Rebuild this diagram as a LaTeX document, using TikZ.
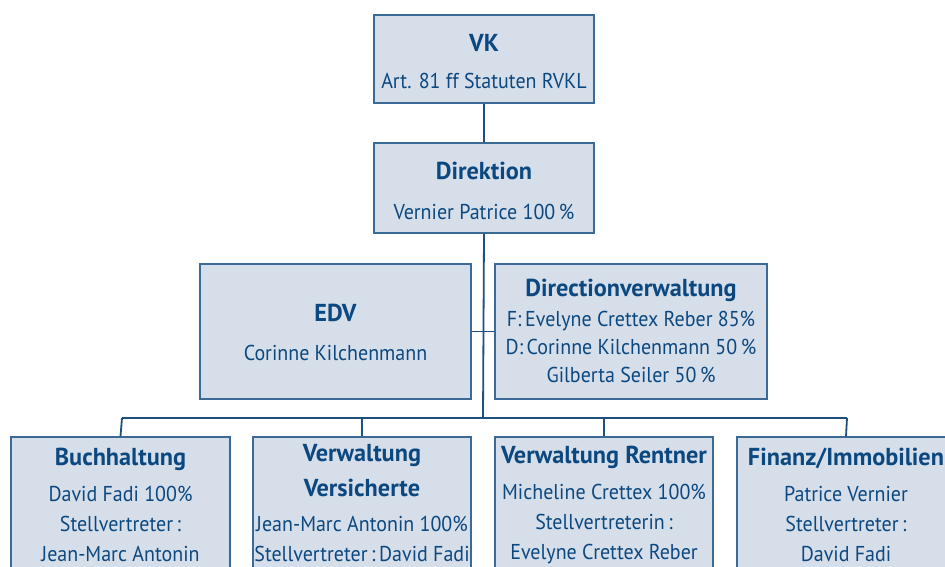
\documentclass[tikz,border=0pt]{standalone}
\usepackage{fontspec}
\setmainfont{PT Sans}[FakeStretch=0.93, BoldFeatures={FakeStretch=0.99}]
\definecolor{boxfill}{HTML}{D6DEEA}
\definecolor{boxline}{HTML}{3C6A96}
\definecolor{linecol}{HTML}{1E4F7E}
\definecolor{txtblue}{HTML}{0C4880}
\newcommand{\ttl}[1]{{\bfseries\fontsize{24.5}{29}\selectfont #1}}
\begin{document}
\begin{tikzpicture}[x=1pt,y=-1pt,
  box/.style={draw=boxline, fill=boxfill, line width=1.3pt, inner sep=0pt},
  txt/.style={text=txtblue, align=center, inner sep=0pt},
  conn/.style={draw=linecol, line width=1.8pt}]
\clip (0,0) rectangle (945,567);
\fill[white] (0,0) rectangle (945,567);
\coordinate (busM) at (483,418);
\coordinate (busL) at (122,418);
\coordinate (busR) at (847,418);
% boxes
\node[box, minimum width=220pt, minimum height=88pt] (vk) at (484,59) {};
\node[box, minimum width=220pt, minimum height=90pt] (dir) at (484,188) {};
\node[box, minimum width=271pt, minimum height=135pt] (edv) at (335.5,331.5) {};
\node[box, minimum width=272pt, minimum height=135pt] (dv) at (631,331.5) {};
\node[box, minimum width=219pt, minimum height=160pt] (buch) at (120.5,517) {};
\node[box, minimum width=218pt, minimum height=160pt] (vers) at (362,517) {};
\node[box, minimum width=218pt, minimum height=160pt] (rent) at (604,517) {};
\node[box, minimum width=218pt, minimum height=160pt] (fin) at (846,517) {};
% connectors
\draw[conn] (vk.south) -- (dir.north);
\draw[conn] (dir.south) -- (busM);
\draw[conn] (edv.east) -- (dv.west);
\draw[conn] (busL) -- (busR);
\draw[conn] (busL) -- (buch.north);
\draw[conn] (vers.north |- busM) -- (vers.north);
\draw[conn] (rent.north |- busM) -- (rent.north);
\draw[conn] (busR) -- (fin.north);
% texts
\node[txt, font=\fontsize{21.5}{29}\selectfont] (vkT) at (484,61.5) {\ttl{VK}\\[8pt]Art. 81 ff Statuten RVKL};
\node[txt, font=\fontsize{21.5}{29}\selectfont] (dirT) at (484,191) {\ttl{Direktion}\\[11pt]Vernier Patrice 100\,\%};
\node[txt, font=\fontsize{21.5}{29}\selectfont] (edvT) at (335.5,332) {\ttl{EDV}\\[10pt]Corinne Kilchenmann};
\node[txt, font=\fontsize{21.5}{28}\selectfont] (dvT) at (631,331) {\ttl{Directionverwaltung}\\[2pt]F:\,Evelyne Crettex Reber 85\%\\D:\,Corinne Kilchenmann 50\,\%\\Gilberta Seiler 50\,\%};
\node[txt, font=\fontsize{21.5}{30}\selectfont] (buchT) at (120.5,505) {\ttl{Buchhaltung}\\[6pt]David Fadi 100\%\\Stellvertreter\,:\\Jean-Marc Antonin};
\node[txt, font=\fontsize{21.5}{30}\selectfont] (versT) at (362,503) {\ttl{Verwaltung}\\[5pt]\ttl{Versicherte}\\[5pt]Jean-Marc Antonin 100\%\\Stellvertreter\,:\,David Fadi};
\node[txt, font=\fontsize{21.5}{30}\selectfont] (rentT) at (604,505) {\ttl{Verwaltung Rentner}\\[6pt]Micheline Crettex 100\%\\Stellvertreterin\,:\\Evelyne Crettex Reber};
\node[txt, font=\fontsize{21.5}{30}\selectfont] (finT) at (846,505) {\ttl{Finanz/Immobilien}\\[6pt]Patrice Vernier\\Stellvertreter\,:\\David Fadi};
\end{tikzpicture}
\end{document}
